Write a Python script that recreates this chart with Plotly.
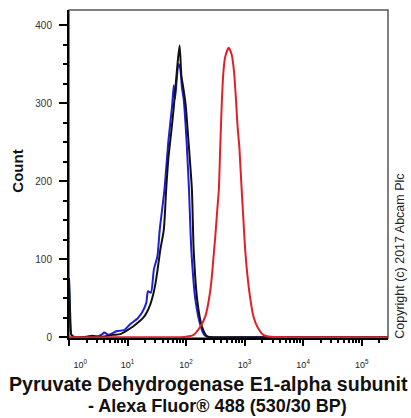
import plotly.graph_objects as go

# ---- data (fluorescence intensity, count) ----
black_x = [1.0, 1.04, 1.1, 1.26, 2.0, 2.5, 3.2, 4.0, 5.6, 7.6, 10.0, 12.6, 15.8, 18.6, 21.4, 24.5,
           27.5, 30.2, 33.1, 36.3, 41.7, 45.7, 50.1, 56.2, 61.7, 67.6, 72.4, 77.6, 83.2, 89.1,
           97.7, 109.6, 125.9, 134.9, 155.0, 186.2, 229.1, 316.0, 1000.0, 10000.0, 281838.0]
black_y = [76, 35, 3, 0, 0.5, 2, 0.5, 1, 3, 4, 9, 14, 20, 25, 32, 42,
           55, 70, 90, 112, 138, 189, 231, 265, 295, 330, 355, 374, 335, 321,
           300, 253, 189, 112, 48, 14, 1, 0, 0, 0, 0]

blue_x = [1.0, 1.04, 1.1, 1.26, 2.0, 3.0, 3.7, 4.0, 4.8, 6.6, 8.7, 11.2, 14.8, 17.8, 20.9, 22.4,
          25.1, 28.2, 32.4, 35.5, 42.7, 50.1, 57.5, 61.7, 64.6, 69.2, 74.1, 79.4, 85.1, 91.2,
          102.3, 112.2, 123.0, 144.5, 177.8, 204.2, 251.2, 1000.0, 10000.0, 281838.0]
blue_y = [75, 35, 3, 0, 0, 0.5, 4, 6, 3, 8, 9, 17, 24, 32, 44, 59,
          57, 87, 104, 138, 189, 253, 295, 323, 305, 330, 350, 345, 320, 305,
          250, 189, 112, 48, 14, 3, 0, 0, 0, 0]

red_x = [1.0, 10.0, 79.4, 100.0, 134.9, 173.8, 213.8, 245.5, 269.2, 288.4, 316.2, 338.8, 363.1,
         380.2, 407.4, 436.5, 467.7, 537.0, 602.6, 660.7, 707.9, 758.6, 812.8, 891.3, 955.0,
         1023.3, 1122.0, 1258.9, 1412.5, 1659.6, 2089.3, 2818.4, 10000.0, 281838.0]
red_y = [0, 0, 0, 0.5, 3, 13, 27, 48, 70, 95, 130, 160, 189, 235, 300, 342, 360, 371, 362,
         340, 308, 270, 244, 189, 150, 112, 78, 48, 27, 13, 3, 0.5, 0, 0]

x_tickvals = [1, 10, 100, 1000, 10000, 100000]
x_ticktext = ["\u00a0" * 9 + "10<sup>0</sup>", "10<sup>1</sup>", "10<sup>2</sup>",
              "10<sup>3</sup>", "10<sup>4</sup>", "10<sup>5</sup>"]
y_tickvals = [0, 100, 200, 300, 400]

fig = go.Figure()
for xs, ys, col in [(blue_x, blue_y, "#1f1fd6"), (black_x, black_y, "#111111"), (red_x, red_y, "#e0202a")]:
    fig.add_trace(go.Scatter(x=xs, y=ys, mode="lines",
                             line=dict(color=col, width=2, shape="spline", smoothing=0.6),
                             hoverinfo="skip", showlegend=False))

minor_x = [m * 10 ** d for d in range(0, 6) for m in range(2, 10)]

fig.update_xaxes(type="log", range=[0, 5.45], tickvals=x_tickvals, ticktext=x_ticktext,
                 showgrid=False, zeroline=False, showline=True, linecolor="black", linewidth=2,
                 ticks="outside", ticklen=6, tickwidth=2, tickcolor="black",
                 ticklabelstandoff=11,
                 tickfont=dict(family="Liberation Sans", size=9, color="#222"),
                 minor=dict(tickvals=minor_x, ticks="outside", ticklen=3, tickwidth=1.5,
                            tickcolor="black", showgrid=False))
fig.update_yaxes(range=[-1, 419.5], tickvals=y_tickvals,
                 showgrid=False, zeroline=False, showline=True, linecolor="black", linewidth=2,
                 ticks="outside", ticklen=8, tickwidth=2, tickcolor="black",
                 ticklabelstandoff=5,
                 tickfont=dict(family="Liberation Sans", size=10, color="#333"),
                 minor=dict(dtick=25, ticks="outside", ticklen=4, tickwidth=1.5,
                            tickcolor="black", showgrid=False))

fig.add_shape(type="rect", xref="paper", yref="paper", x0=0, x1=1, y0=0, y1=1,
              line=dict(color="#555", width=1.5), layer="below")

fig.add_annotation(text="<b>Count</b>", xref="paper", yref="paper", x=-0.16, y=0.51,
                   textangle=-90, showarrow=False, xanchor="center", yanchor="middle",
                   font=dict(family="Liberation Sans", size=15, color="#111"))
fig.add_annotation(text="<b>Pyruvate Dehydrogenase E1-alpha subunit</b>", xref="paper", yref="paper",
                   x=0.437, y=-0.139, showarrow=False, xanchor="center", yanchor="middle",
                   font=dict(family="Liberation Sans", size=19.6, color="#111"))
fig.add_annotation(text="<b>- Alexa Fluor® 488 (530/30 BP)</b>", xref="paper", yref="paper",
                   x=0.465, y=-0.207, showarrow=False, xanchor="center", yanchor="middle",
                   font=dict(family="Liberation Sans", size=18, color="#111"))
fig.add_annotation(text="Copyright (c) 2017 Abcam Plc", xref="paper", yref="paper",
                   x=1.037, y=0.25, textangle=-90, showarrow=False,
                   xanchor="center", yanchor="middle",
                   font=dict(family="Liberation Sans", size=12.5, color="#222"))

fig.update_layout(width=411, height=418, margin=dict(l=69, r=23, t=10, b=80),
                  plot_bgcolor="white", paper_bgcolor="white")

fig.write_html("out.html", config={"displayModeBar": False},
               post_script="document.body.style.margin='0';document.body.style.overflow='hidden';")
